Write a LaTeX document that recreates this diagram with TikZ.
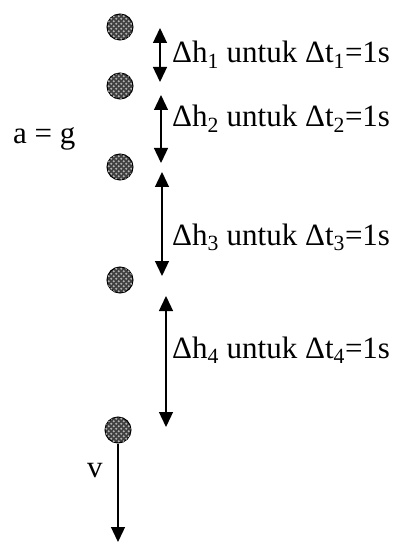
\documentclass[tikz,border=0pt]{standalone}
\usepackage{fontspec}
\setmainfont{Liberation Serif}
\usetikzlibrary{arrows.meta,patterns.meta}
\tikzdeclarepattern{
  name=balldots,
  type=uncolored,
  bottom left={(-0.1pt,-0.1pt)},
  top right={(5.1pt,5.1pt)},
  tile size={(5pt,5pt)},
  code={
    \fill (1.25pt,1.25pt) circle (1.1pt);
    \fill (3.75pt,3.75pt) circle (1.1pt);
  }
}
\begin{document}
\begin{tikzpicture}[x=1pt,y=-1pt,
  ball/.style={circle,draw=black,line width=1pt,minimum size=26pt,inner sep=0pt,
    fill=black!75,postaction={pattern=balldots,pattern color=black!30}},
  darrow/.style={line width=1.3pt,{Triangle[length=15pt,width=14pt]}-{Triangle[length=15pt,width=14pt]}},
  sarrow/.style={line width=1.3pt,-{Triangle[length=15pt,width=14pt]}},
  lbl/.style={anchor=base west,inner sep=0pt,font=\fontsize{31}{36}\selectfont}]
\useasboundingbox (0,0) rectangle (396,545);
\node[ball] (b1) at (120,27) {};
\node[ball] (b2) at (120,86) {};
\node[ball] (b3) at (120,167) {};
\node[ball] (b4) at (120,280) {};
\node[ball] (b5) at (118,430) {};
\coordinate (a1t) at (160,28);  \coordinate (a1b) at (160,82);
\coordinate (a2t) at (161,95);  \coordinate (a2b) at (161,163);
\coordinate (a3t) at (162,172); \coordinate (a3b) at (162,276);
\coordinate (a4t) at (166,296); \coordinate (a4b) at (166,427);
\coordinate (vend) at (118,542);
\draw[darrow] (a1t) -- (a1b);
\draw[darrow] (a2t) -- (a2b);
\draw[darrow] (a3t) -- (a3b);
\draw[darrow] (a4t) -- (a4b);
\draw[sarrow] (b5.south) -- (vend);
\node[lbl] (l1) at (172,63) {Δh\textsubscript{1} untuk Δt\textsubscript{1}=1s};
\node[lbl] (l2) at (172,127) {Δh\textsubscript{2} untuk Δt\textsubscript{2}=1s};
\node[lbl] (l3) at (172,245) {Δh\textsubscript{3} untuk Δt\textsubscript{3}=1s};
\node[lbl] (l4) at (172,358) {Δh\textsubscript{4} untuk Δt\textsubscript{4}=1s};
\node[lbl] (ag) at (13,144) {a = g};
\node[lbl] (v) at (87,477) {v};
\end{tikzpicture}
\end{document}
